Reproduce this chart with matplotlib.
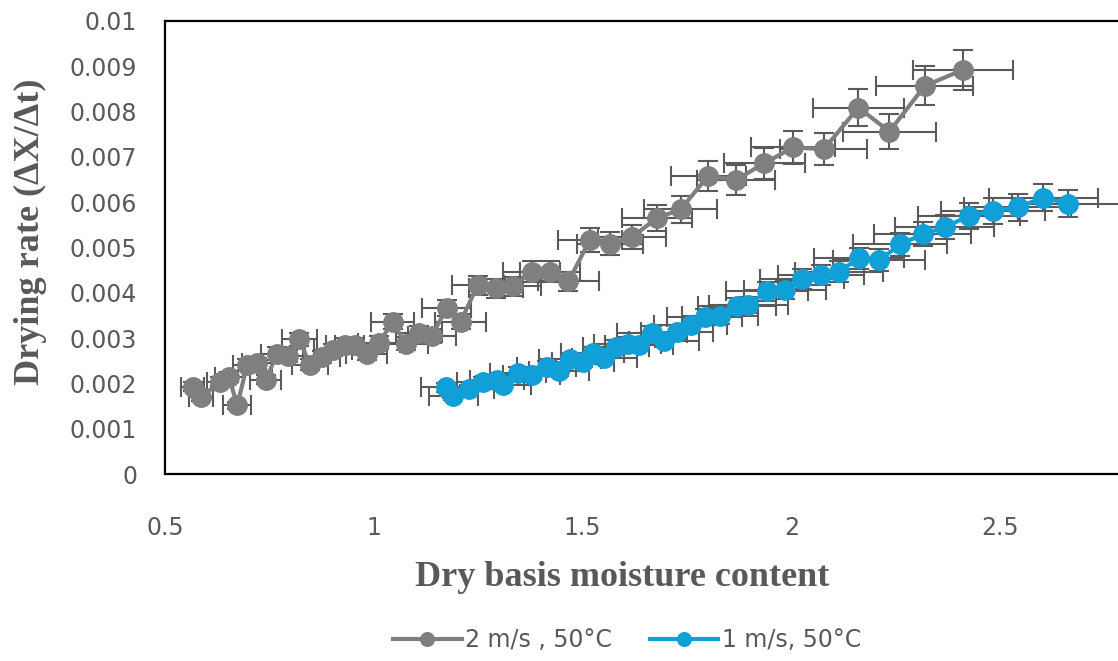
import matplotlib
matplotlib.use("Agg")
import matplotlib.pyplot as plt
import numpy as np

# ---- data ----
gray_x = [0.566, 0.586, 0.632, 0.653, 0.673, 0.697, 0.721, 0.741, 0.769, 0.795,
          0.822, 0.847, 0.875, 0.903, 0.931, 0.955, 0.983, 1.013, 1.045, 1.077,
          1.109, 1.139, 1.175, 1.208, 1.249, 1.293, 1.334, 1.378, 1.422, 1.466,
          1.518, 1.566, 1.619, 1.678, 1.735, 1.801, 1.868, 1.935, 2.005, 2.078,
          2.161, 2.235, 2.320, 2.411]
gray_y = [0.00193, 0.00169, 0.00204, 0.00214, 0.00152, 0.00241, 0.00244, 0.00208, 0.00266, 0.00261,
          0.00297, 0.00241, 0.00259, 0.00274, 0.00285, 0.00285, 0.00265, 0.00290, 0.00336, 0.00287,
          0.00312, 0.00305, 0.00366, 0.00336, 0.00417, 0.00410, 0.00414, 0.00447, 0.00447, 0.00425,
          0.00517, 0.00508, 0.00523, 0.00565, 0.00584, 0.00658, 0.00649, 0.00686, 0.00721, 0.00717,
          0.00809, 0.00756, 0.00857, 0.00892]

blue_x = [1.173, 1.191, 1.227, 1.262, 1.295, 1.310, 1.346, 1.378, 1.414, 1.444,
          1.470, 1.501, 1.524, 1.552, 1.580, 1.608, 1.636, 1.666, 1.695, 1.726,
          1.759, 1.793, 1.829, 1.869, 1.897, 1.942, 1.985, 2.026, 2.071, 2.114,
          2.162, 2.211, 2.261, 2.315, 2.368, 2.426, 2.483, 2.542, 2.604, 2.663]
blue_y = [0.00191, 0.00172, 0.00187, 0.00204, 0.00208, 0.00197, 0.00224, 0.00219, 0.00237, 0.00228,
          0.00253, 0.00248, 0.00268, 0.00255, 0.00281, 0.00287, 0.00285, 0.00312, 0.00294, 0.00314,
          0.00329, 0.00347, 0.00349, 0.00371, 0.00373, 0.00403, 0.00406, 0.00430, 0.00439, 0.00447,
          0.00476, 0.00472, 0.00507, 0.00529, 0.00545, 0.00570, 0.00581, 0.00589, 0.00610, 0.00597]

series_labels = ["2 m/s , 50\u00b0C", "1 m/s, 50\u00b0C"]
error_pct = 0.05  # percentage error bars (both directions)

x_ticks = [0.5, 1.0, 1.5, 2.0, 2.5]
x_tick_labels = ["0.5", "1", "1.5", "2", "2.5"]
y_ticks = [0, 0.001, 0.002, 0.003, 0.004, 0.005, 0.006, 0.007, 0.008, 0.009, 0.01]
y_tick_labels = ["0", "0.001", "0.002", "0.003", "0.004", "0.005", "0.006",
                 "0.007", "0.008", "0.009", "0.01"]

x_label = "Dry basis moisture content"
y_label = "Drying rate (\u0394X/\u0394t)"

# ---- style ----
W, H = 1118, 661
DPI = 100
GRAY = "#7f7f7f"
BLUE = "#119fd7"
ERR = "#5a5a5a"
TXT = "#595959"
plt.rcParams["font.family"] = ["DejaVu Sans"]

fig = plt.figure(figsize=(W / DPI, H / DPI), dpi=DPI)
ax_left = 165 / W
ax_bottom = (H - 474) / H
ax_height = (474 - 21) / H
ax_width = (2.5 * 417.5) / W   # axis runs to 3.0, cropped by figure edge
ax = fig.add_axes([ax_left, ax_bottom, ax_width, ax_height])

for xs, ys, col, lab in [(gray_x, gray_y, GRAY, series_labels[0]),
                         (blue_x, blue_y, BLUE, series_labels[1])]:
    xs = np.asarray(xs)
    ys = np.asarray(ys)
    ax.errorbar(xs, ys, xerr=xs * error_pct, yerr=ys * error_pct, fmt="none",
                ecolor=ERR, elinewidth=1.5, capsize=7, capthick=1.5, zorder=2,
                clip_on=False)
    ax.plot(xs, ys, color=col, lw=3, marker="o", ms=14, mec=col, mfc=col,
            zorder=3, label=lab, clip_on=False)

ax.set_xlim(0.5, 3.0)
ax.set_ylim(0, 0.01)
ax.set_xticks(x_ticks)
ax.set_xticklabels(x_tick_labels)
ax.set_yticks(y_ticks)
ax.set_yticklabels(y_tick_labels)
ax.tick_params(axis="both", length=0, labelsize=17, labelcolor=TXT)
ax.tick_params(axis="x", pad=30)
ax.tick_params(axis="y", pad=20)
for s in ax.spines.values():
    s.set_color("black")
    s.set_linewidth(1.6)

fig.text(30 / W, (H - 232) / H, y_label, rotation=90, ha="center", va="center",
         fontsize=26, fontweight="bold", color=TXT, family=["Liberation Serif"])
fig.text(622 / W, (H - 578) / H, x_label, ha="center", va="center",
         fontsize=26, fontweight="bold", color=TXT, family=["Liberation Serif"])

handles, labels = ax.get_legend_handles_labels()
leg = fig.legend(handles, labels, loc="center", bbox_to_anchor=(627 / W, (H - 640) / H),
                 ncol=2, frameon=False, fontsize=17, handlelength=2.9,
                 handletextpad=0.15, columnspacing=1.6, markerscale=0.7)
for t in leg.get_texts():
    t.set_color(TXT)

fig.savefig("out.png", dpi=DPI)
